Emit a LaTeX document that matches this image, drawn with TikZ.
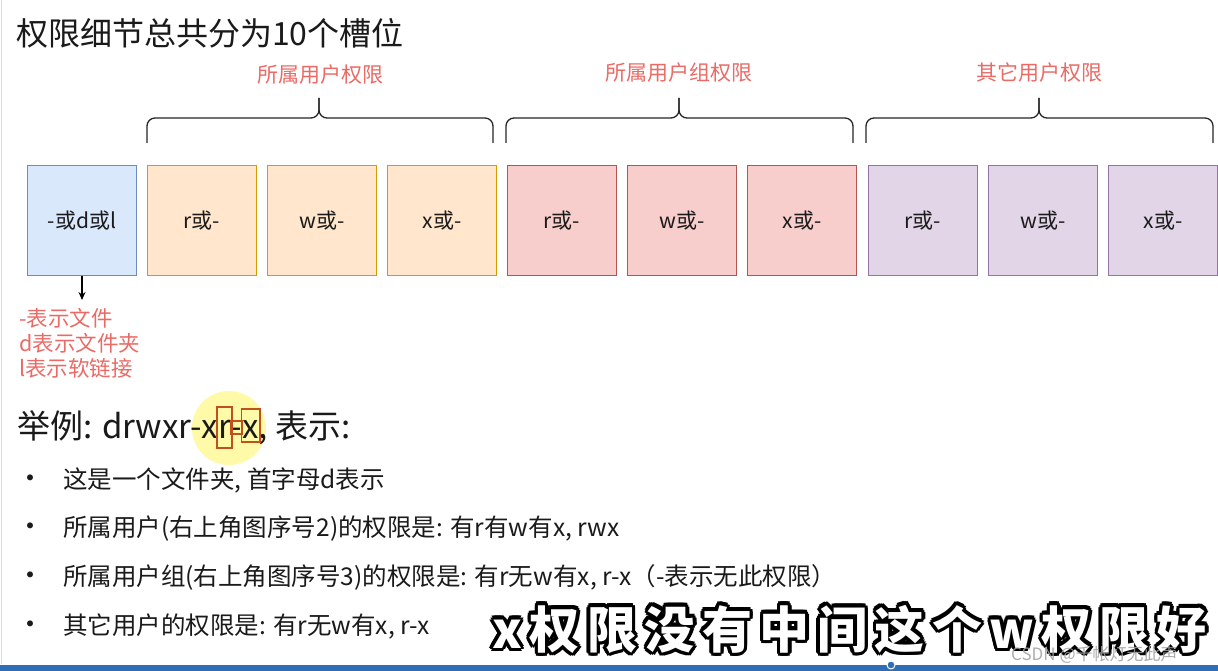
\documentclass[tikz,border=0pt]{standalone}
\usepackage{fontspec}
\setmainfont{Noto Sans CJK SC}
\newfontfamily\subfont[LetterSpace=15]{Noto Sans CJK SC}
\usetikzlibrary{arrows.meta}
\definecolor{bluefill}{HTML}{DAE8FC}\definecolor{bluedraw}{HTML}{6C8EBF}
\definecolor{orafill}{HTML}{FFE6CC}\definecolor{oradraw}{HTML}{D79B00}
\definecolor{redfill}{HTML}{F8CECC}\definecolor{reddraw}{HTML}{B85450}
\definecolor{purfill}{HTML}{E1D5E7}\definecolor{purdraw}{HTML}{9673A6}
\definecolor{notered}{HTML}{EA6B66}
\definecolor{txt}{HTML}{1A1A1A}
\definecolor{barblue}{HTML}{2F6DB5}
\definecolor{hlred}{HTML}{C0501E}
\tikzset{
  slot/.style={draw, line width=1pt, minimum width=109pt, minimum height=110pt, inner sep=0pt, anchor=north west, font=\fontsize{21}{24}\selectfont, text=txt},
  bluebox/.style={slot, fill=bluefill, draw=bluedraw},
  orabox/.style={slot, fill=orafill, draw=oradraw},
  redbox/.style={slot, fill=redfill, draw=reddraw},
  purbox/.style={slot, fill=purfill, draw=purdraw},
  grplabel/.style={text=notered, font=\fontsize{21}{24}\selectfont, inner sep=0pt},
  bracestyle/.style={draw=black!85, line width=1.3pt, rounded corners=8pt},
  ex/.style={font=\fontsize{33}{36}\selectfont, text=txt, inner sep=0pt, outer sep=0pt, anchor=base west},
  bul/.style={font=\fontsize{24.5}{27}\selectfont, text=txt, inner sep=0pt, anchor=base west},
  hl/.style={draw=hlred, line width=1.5pt},
  sub/.style={font=\subfont\bfseries\fontsize{50}{54}\selectfont, inner sep=0pt, anchor=base west},
}
\begin{document}
\begin{tikzpicture}[x=1pt,y=-1pt]
\useasboundingbox (0,0) rectangle (1218,671);
\fill[white] (0,0) rectangle (1218,671);
\draw[draw=bluedraw!30, line width=1pt] (1,0) -- (1,664);

% title
\node[font=\fontsize{32}{36}\selectfont, text=txt, inner sep=0pt, anchor=base west] (title) at (16,46) {权限细节总共分为10个槽位};

% slots
\node[bluebox] (s0) at (27,165) {-或d或l};
\node[orabox] (s1) at (147,165) {r或-};
\node[orabox] (s2) at (267,165) {w或-};
\node[orabox] (s3) at (387,165) {x或-};
\node[redbox] (s4) at (507,165) {r或-};
\node[redbox] (s5) at (627,165) {w或-};
\node[redbox] (s6) at (747,165) {x或-};
\node[purbox] (s7) at (868,165) {r或-};
\node[purbox] (s8) at (988,165) {w或-};
\node[purbox] (s9) at (1108,165) {x或-};

% braces
\coordinate (b1l) at (147,143); \coordinate (b1r) at (493,143); \coordinate (b1t) at (319,98);
\coordinate (b2l) at (506,143); \coordinate (b2r) at (853,143); \coordinate (b2t) at (679,98);
\coordinate (b3l) at (866,143); \coordinate (b3r) at (1213,143); \coordinate (b3t) at (1039,98);
\foreach \b in {b1,b2,b3}{
  \draw[bracestyle] (\b l) |- (\b t |- 0,118) -- (\b t);
  \draw[bracestyle] (\b r) |- (\b t |- 0,118) -- (\b t);
}
\node[grplabel] (g1) at (320,75) {所属用户权限};
\node[grplabel] (g2) at (679,73) {所属用户组权限};
\node[grplabel] (g3) at (1039,73) {其它用户权限};

% arrow and notes
\node[text=notered, font=\fontsize{21.5}{25}\selectfont, align=left, inner sep=0pt, anchor=north west] (notes) at (19,308) {-表示文件\\d表示文件夹\\l表示软链接};
\draw[-{Stealth[length=8pt,width=7pt]}, line width=1.2pt] (s0.south -| 82,0) -- (82,300);

% example line
\fill[yellow!45, opacity=0.75] (229,428) circle (37);
\node[ex] (ex1) at (17,438) {举例: drwxr-x};
\node[ex] (exr) at (ex1.base east) {r};
\node[ex] (exd) at (exr.base east) {-};
\node[ex] (exx) at (exd.base east) {x};
\node[ex] (ex2) at (exx.base east) {, 表示:};
\draw[hl] ([xshift=-1pt]exr.west |- 0,407) rectangle ([xshift=1pt]exr.east |- 0,448);
\draw[hl] (exd.west |- 0,421) rectangle (exd.east |- 0,434);
\draw[hl] ([xshift=-1pt]exx.west |- 0,409) rectangle ([xshift=1pt]exx.east |- 0,442);

% bullets
\foreach \i/\yy in {1/488,2/536,3/585,4/634}{
  \node[bul] (dot\i) at (16,\yy) {\fontsize{28}{30}\selectfont •};
}
\node[bul] (t1) at (63,488) {这是一个文件夹, 首字母d表示};
\node[bul] (t2) at (63,536) {所属用户(右上角图序号2)的权限是: 有r有w有x, rwx};
\node[bul] (t3) at (63,585) {所属用户组(右上角图序号3)的权限是: 有r无w有x, r-x（-表示无此权限）};
\node[bul] (t4) at (63,634) {其它用户的权限是: 有r无w有x, r-x};

% subtitle overlay
\foreach \a in {0,30,...,330}{
  \node[sub, text=black] (subsh\a) at ([shift={(\a:3.5)}]492,648) {x权限没有中间这个w权限好};
}
\node[sub, text=white] (subt) at (492,648) {x权限没有中间这个w权限好};

% watermark
\node[text=gray!75, opacity=0.85, font=\fontsize{17}{19}\selectfont, inner sep=0pt, anchor=base west] (wm) at (1011,660) {CSDN @千帐灯无此声};

% bottom bar
\fill[barblue] (0,665) rectangle (1218,671);
\node[circle, fill=barblue, draw=white, line width=1pt, minimum size=8pt, inner sep=0pt] (knob) at (891,665) {};
\end{tikzpicture}
\end{document}
